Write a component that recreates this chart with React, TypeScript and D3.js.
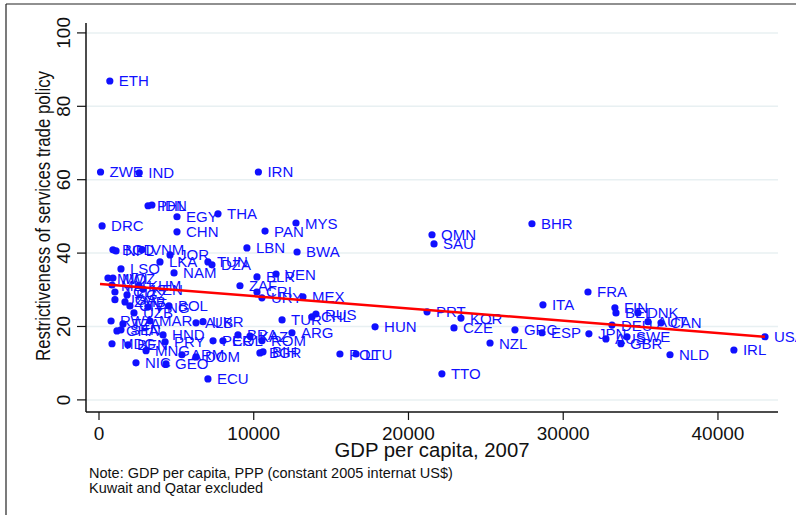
import React from 'react';
import * as d3 from 'd3';

// country codes, GDP per capita (PPP, 2007) and services trade restrictiveness
const countries = [
  'ETH', 'ZWE', 'IND', 'IRN', 'PHL', 'IDN', 'EGY', 'THA', 'DRC', 'CHN',
  'PAN', 'MYS', 'LBN', 'BWA', 'OMN', 'SAU', 'BHR', 'BGD', 'NPL', 'VNM',
  'JOR', 'LKA', 'TUN', 'DZA', 'LSO', 'NAM', 'MWI', 'MOZ', 'MLI', 'KHM',
  'KEN', 'TCD', 'KGZ', 'UGA', 'ZMB', 'CIV', 'PNG', 'BOL', 'UZB', 'RWA',
  'TZA', 'GHA', 'SEN', 'MAR', 'UKR', 'ALB', 'HND', 'PRY', 'MDG', 'BEN',
  'MNG', 'NIC', 'GEO', 'ARM', 'DOM', 'ECU', 'PER', 'COL', 'BRA', 'KAZ',
  'ARG', 'ROM', 'BGR', 'BIH', 'ZAF', 'BLR', 'VEN', 'CRI', 'URY', 'MEX',
  'TUR', 'CHL', 'RUS', 'POL', 'LTU', 'HUN', 'PRT', 'KOR', 'CZE', 'NZL',
  'TTO', 'GRC', 'ESP', 'ITA', 'FRA', 'JPN', 'FIN', 'BEL', 'DNK', 'DEU',
  'AUT', 'CAN', 'AUS', 'SWE', 'GBR', 'NLD', 'IRL', 'USA',
];
const gdpPerCapita = [
  700, 100, 2600, 10300, 3170, 3420, 5040, 7690, 200, 5040,
  10730, 12730, 9560, 12800, 21520, 21650, 27980, 900, 1100, 2780,
  4590, 3940, 7040, 7300, 1420, 4850, 580, 900, 840, 2580,
  2840, 1030, 1810, 1030, 1680, 2000, 3170, 4520, 2260, 780,
  1550, 1160, 1420, 3300, 6720, 6270, 4140, 4270, 840, 1870,
  3040, 2390, 4330, 5360, 6270, 7040, 7370, 8010, 8980, 9760,
  12470, 10530, 10400, 10600, 9110, 10210, 11440, 10210, 10530, 13180,
  11830, 13760, 14020, 15570, 16610, 17840, 21200, 23390, 22940, 25270,
  22160, 26880, 28630, 28690, 31600, 31660, 33340, 33410, 34830, 33150,
  35480, 36320, 32760, 34120, 33730, 36900, 41030, 43040,
];
const restrictiveness = [
  86.9, 62.1, 61.9, 62.1, 52.9, 53.1, 49.9, 50.7, 47.4, 45.8,
  46.0, 48.2, 41.4, 40.3, 45.0, 42.5, 48.0, 40.9, 40.6, 40.9,
  39.5, 37.6, 37.6, 36.8, 35.7, 34.6, 33.2, 33.2, 31.3, 31.1,
  30.2, 29.4, 28.6, 27.3, 26.7, 25.6, 25.3, 25.6, 23.7, 21.5,
  20.7, 18.8, 19.1, 21.5, 21.3, 21.0, 17.7, 15.8, 15.3, 15.0,
  13.4, 10.1, 9.8, 12.3, 11.7, 5.7, 16.1, 16.1, 17.7, 17.4,
  18.3, 16.1, 12.8, 13.1, 31.1, 33.5, 34.3, 29.4, 27.8, 28.1,
  21.8, 22.6, 23.4, 12.5, 12.5, 19.9, 24.0, 22.3, 19.6, 15.5,
  7.1, 19.1, 18.3, 25.9, 29.4, 18.0, 25.1, 23.7, 23.7, 20.4,
  21.3, 21.0, 16.6, 17.2, 15.3, 12.3, 13.6, 17.2,
];

// fitted line ends
const fitGdp = [65, 43040];
const fitRestrictiveness = [31.6, 17.2];

const xTicks = [0, 10000, 20000, 30000, 40000];
const yTicks = [0, 20, 40, 60, 80, 100];

const W = 796;
const H = 515;

const App = () => {
  const x = d3.scaleLinear().domain([-840, 43880]).range([86, 778]);
  const y = d3.scaleLinear().domain([-3.3, 102.7]).range([412, 23]);

  const fitLine = d3
    .line<number>()
    .x((d) => x(d))
    .y((_, i) => y(fitRestrictiveness[i]));

  const font = 'Liberation Sans, Arial, sans-serif';
  const blue = '#1010ff';

  return (
    <div style={{ position: 'absolute', left: 0, top: 0 }}>
      <svg width={W} height={H} style={{ display: 'block', background: '#fff' }}>
        {/* outer frame */}
        <line x1={6} y1={4} x2={W} y2={4} stroke="#222" strokeWidth={1.2} />
        <line x1={6} y1={4} x2={6} y2={H} stroke="#222" strokeWidth={1.2} />

        {/* grid */}
        {yTicks.map((t) => (
          <line key={'g' + t} x1={86} x2={778} y1={y(t)} y2={y(t)} stroke="#e8f0f2" strokeWidth={1.5} />
        ))}

        {/* axes */}
        <line x1={86} x2={86} y1={23} y2={412} stroke="#111" strokeWidth={1.5} />
        <line x1={86} x2={778} y1={412} y2={412} stroke="#111" strokeWidth={1.5} />

        {yTicks.map((t) => (
          <g key={'y' + t}>
            <line x1={77} x2={86} y1={y(t)} y2={y(t)} stroke="#111" strokeWidth={1.2} />
            <text
              transform={`translate(70,${y(t)}) rotate(-90)`}
              textAnchor="middle"
              fontFamily={font}
              fontSize={19}
              fill="#111"
            >
              {t}
            </text>
          </g>
        ))}
        {xTicks.map((t) => (
          <g key={'x' + t}>
            <line x1={x(t)} x2={x(t)} y1={412} y2={420} stroke="#111" strokeWidth={1.2} />
            <text x={x(t)} y={440} textAnchor="middle" fontFamily={font} fontSize={19} fill="#111">
              {t}
            </text>
          </g>
        ))}

        <text
          transform={`translate(50,216) rotate(-90)`}
          textAnchor="middle"
          fontFamily={font}
          fontSize={20}
          textLength={290}
          lengthAdjust="spacingAndGlyphs"
          fill="#111"
        >
          Restrictiveness of services trade policy
        </text>
        <text
          x={432}
          y={457}
          textAnchor="middle"
          fontFamily={font}
          fontSize={20}
          textLength={195}
          lengthAdjust="spacingAndGlyphs"
          fill="#111"
        >
          GDP per capita, 2007
        </text>
        <text x={89} y={478} fontFamily={font} fontSize={14.5} fill="#111">
          Note: GDP per capita, PPP (constant 2005 internat US$)
        </text>
        <text x={89} y={493} fontFamily={font} fontSize={14.5} fill="#111">
          Kuwait and Qatar excluded
        </text>

        {/* points */}
        {countries.map((c, i) => (
          <g key={c}>
            <circle cx={x(gdpPerCapita[i])} cy={y(restrictiveness[i])} r={3.6} fill={blue} />
            <text
              x={x(gdpPerCapita[i]) + 9}
              y={y(restrictiveness[i]) + 5.5}
              fontFamily={font}
              fontSize={15}
              fill={blue}
            >
              {c}
            </text>
          </g>
        ))}

        {/* fitted values */}
        <path d={fitLine(fitGdp) || ''} fill="none" stroke="#ff0000" strokeWidth={2.5} />
      </svg>
    </div>
  );
};

export default App;
